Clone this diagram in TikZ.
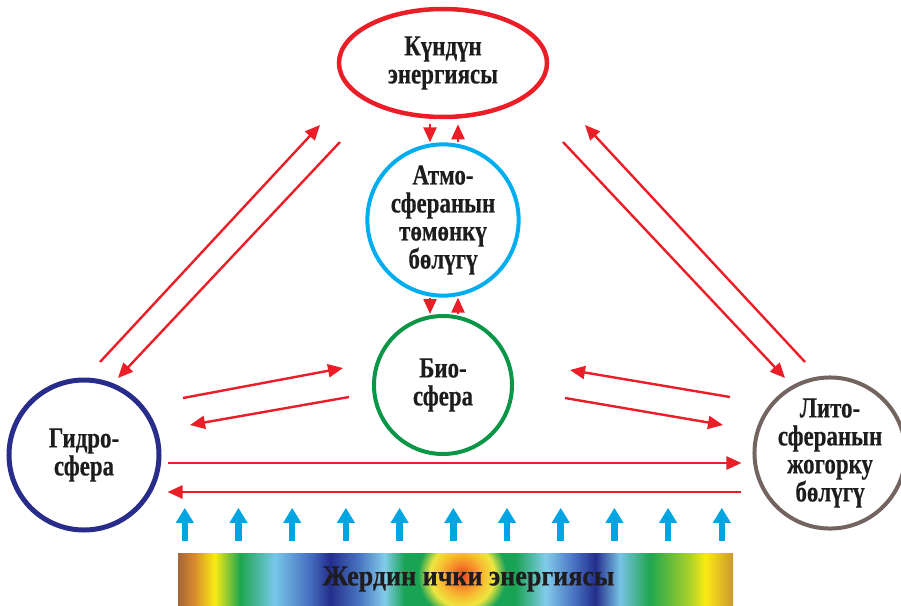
\documentclass[tikz,border=0pt]{standalone}
\usepackage{fontspec}
\setmainfont{Liberation Serif}[FakeStretch=0.9,FakeBold=0.4]
\newfontfamily\narrowserif{Liberation Serif}[FakeStretch=0.79,FakeBold=0.4]
\usetikzlibrary{arrows.meta,shapes.geometric,calc}
\definecolor{SunRed}{RGB}{235,30,40}
\definecolor{AirBlue}{RGB}{0,174,239}
\definecolor{LifeGreen}{RGB}{10,150,70}
\definecolor{WaterNavy}{RGB}{40,45,140}
\definecolor{RockGray}{RGB}{115,100,95}
\definecolor{HeatBlue}{RGB}{0,165,225}
\definecolor{Ink}{RGB}{30,28,30}
\pgfdeclarehorizontalshading{earthbar}{100bp}{rgb(0bp)=(0.65,0.39,0.22); rgb(25bp)=(0.65,0.39,0.22);
  rgb(26.5bp)=(0.85,0.55,0.18); rgb(28.3bp)=(0.98,0.92,0.08); rgb(30.6bp)=(0.12,0.65,0.31);
  rgb(33.7bp)=(0.47,0.78,0.92); rgb(36.9bp)=(0.27,0.43,0.75); rgb(38.7bp)=(0.14,0.18,0.55);
  rgb(41.4bp)=(0.29,0.47,0.76); rgb(43.6bp)=(0.51,0.8,0.92); rgb(45.4bp)=(0.1,0.64,0.33);
  rgb(55.4bp)=(0.1,0.64,0.33); rgb(58.1bp)=(0.51,0.8,0.92); rgb(60.8bp)=(0.27,0.43,0.75);
  rgb(62.6bp)=(0.14,0.18,0.55); rgb(64.8bp)=(0.47,0.76,0.9); rgb(67.5bp)=(0.12,0.65,0.31);
  rgb(71.1bp)=(0.67,0.82,0.16); rgb(72.5bp)=(0.98,0.92,0.08); rgb(75bp)=(0.8,0.59,0.2);
  rgb(100bp)=(0.8,0.59,0.2)}
\pgfdeclareradialshading{corehot}{\pgfpoint{0bp}{0bp}}{rgb(0bp)=(0.93,0.25,0.15); rgb(10bp)=(0.96,0.5,0.15);
  rgb(22bp)=(0.97,0.75,0.2); rgb(32bp)=(0.93,0.9,0.25); rgb(44bp)=(0.1,0.64,0.33); rgb(50bp)=(0.1,0.64,0.33)}
\tikzset{
  sphere/.style={circle,line width=4pt,inner sep=0pt,align=center,text=Ink,
    font=\narrowserif\fontsize{29}{28}\selectfont\bfseries},
  flow/.style={-{Triangle[length=15pt,width=13pt]},draw=SunRed,line width=2.4pt},
  heat/.style={-{Triangle[length=15pt,width=17pt]},draw=HeatBlue,line width=6.5pt},
  corebar/.style={rectangle,inner sep=0pt,minimum width=555pt,minimum height=52pt,text=Ink,
    font=\fontsize{29}{30}\selectfont\bfseries}
}
\begin{document}
\begin{tikzpicture}[x=1pt,y=-1pt]
\useasboundingbox (0,0) rectangle (901,605);

\node[sphere,ellipse,draw=SunRed,line width=4.5pt,minimum width=208pt,minimum height=108pt] (sun) at (443,63) {Күндүн\\энергиясы};
\node[sphere,draw=AirBlue,minimum size=136pt] (atmo) at (443,220) {Атмо-\\сферанын\\төмөнкү\\бөлүгү};
\node[sphere,draw=LifeGreen,minimum size=138pt] (bio) at (443,385) {Био-\\сфера};
\node[sphere,draw=WaterNavy,line width=5pt,minimum size=150pt] (hydro) at (84,455) {Гидро-\\сфера};
\node[sphere,draw=RockGray,minimum size=136pt] (litho) at (830,453) {Лито-\\сферанын\\жогорку\\бөлүгү};
\node[corebar,shade,shading=earthbar,path picture={
  \node[inner sep=0pt] at ([xshift=6.5pt,yshift=4pt]path picture bounding box.center) {\pgfuseshading{corehot}};}]
  (core) at (455.5,579) {\hspace*{26pt}Жердин ички энергиясы};

% ends of the slanted arrows
\coordinate (hs1) at (100,362); \coordinate (hs2) at (320,125);
\coordinate (sh1) at (340,142); \coordinate (sh2) at (118,378);
\coordinate (hb1) at (183,398); \coordinate (hb2) at (343,368);
\coordinate (bh1) at (349,397); \coordinate (bh2) at (190,425);
\coordinate (ls1) at (805,362); \coordinate (ls2) at (585,125);
\coordinate (sl1) at (563,142); \coordinate (sl2) at (785,378);
\coordinate (lb1) at (730,397); \coordinate (lb2) at (570,370);
\coordinate (bl1) at (565,398); \coordinate (bl2) at (723,425);

\draw[flow] (hs1) -- (hs2); \draw[flow] (sh1) -- (sh2);
\draw[flow] (hb1) -- (hb2); \draw[flow] (bh1) -- (bh2);
\draw[flow] (ls1) -- (ls2); \draw[flow] (sl1) -- (sl2);
\draw[flow] (lb1) -- (lb2); \draw[flow] (bl1) -- (bl2);

\draw[flow,shorten <=5pt] ([xshift=-13pt]sun.south) -- ([xshift=-13pt]atmo.north);
\draw[flow,shorten >=5pt] ([xshift=15pt]atmo.north) -- ([xshift=15pt]sun.south);
\draw[flow] ([xshift=-13pt]atmo.south) -- ([xshift=-13pt]bio.north);
\draw[flow] ([xshift=15pt]bio.north) -- ([xshift=15pt]atmo.south);

\draw[flow,shorten <=6pt,shorten >=11pt] ([yshift=-8pt]hydro.east) -- ([yshift=-8pt]hydro.east -| litho.west);
\draw[flow,shorten <=11pt,shorten >=6pt] ([yshift=-37pt]hydro.east -| litho.west) -- ([yshift=-37pt]hydro.east);

\foreach \i in {0,...,10}
  \draw[heat] ($(core.north west)+(7+53.7*\i,-12)$) -- ++(0,-33);
\end{tikzpicture}
\end{document}
